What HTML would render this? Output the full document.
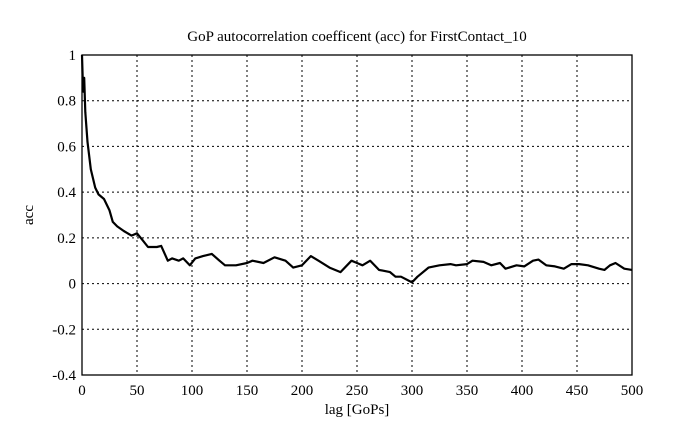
<!DOCTYPE html>
<html><head><style>
body{margin:0;background:#fff;}
svg text{font-family:"Liberation Serif",serif;font-size:15px;fill:#000;}
</style></head><body>
<svg id="s" width="689" height="433" xmlns="http://www.w3.org/2000/svg"></svg>
<script>
const L=82,R=632,T=55,B=375;
const X=v=>L+(v/500)*(R-L), Y=v=>T+(1-v)/1.4*(B-T);
let h='';
for(let i=1;i<10;i++){const x=X(i*50);h+=`<line x1="${x}" y1="${T}" x2="${x}" y2="${B}" stroke="#000" stroke-width="1" stroke-dasharray="2,3"/>`;}
for(let v=-0.2;v<0.95;v+=0.2){const y=Y(v);h+=`<line x1="${L}" y1="${y}" x2="${R}" y2="${y}" stroke="#000" stroke-width="1" stroke-dasharray="2,3"/>`;}
h+=`<rect x="${L}" y="${T}" width="${R-L}" height="${B-T}" fill="none" stroke="#000" stroke-width="1.3"/>`;
for(let i=0;i<=10;i++){const x=X(i*50);h+=`<text x="${x}" y="${B+20}" text-anchor="middle">${i*50}</text>`;}
const yl=['-0.4','-0.2','0','0.2','0.4','0.6','0.8','1'];
yl.forEach((t,i)=>{const y=Y(-0.4+i*0.2);h+=`<text x="${L-6}" y="${y+5}" text-anchor="end">${t}</text>`;});
const d=[[0,1],[1,0.84],[2,0.9],[3,0.75],[5,0.62],[8,0.5],[12,0.42],[15,0.39],[20,0.37],[25,0.32],[28,0.27],[32,0.25],[38,0.23],[45,0.21],[50,0.22],[55,0.19],[60,0.16],[68,0.16],[72,0.165],[78,0.1],[82,0.11],[88,0.1],[92,0.11],[98,0.08],[103,0.11],[110,0.12],[118,0.13],[125,0.1],[130,0.08],[140,0.08],[150,0.09],[155,0.1],[165,0.09],[175,0.115],[185,0.1],[192,0.07],[200,0.08],[208,0.12],[215,0.1],[225,0.07],[235,0.05],[245,0.1],[250,0.09],[255,0.08],[262,0.1],[270,0.06],[280,0.05],[285,0.03],[290,0.03],[300,0.005],[305,0.03],[315,0.07],[325,0.08],[335,0.085],[340,0.08],[350,0.085],[355,0.1],[365,0.095],[372,0.08],[380,0.09],[385,0.065],[395,0.08],[402,0.075],[410,0.1],[415,0.105],[422,0.08],[430,0.075],[438,0.065],[445,0.085],[452,0.085],[460,0.08],[470,0.065],[475,0.06],[480,0.08],[485,0.09],[493,0.065],[500,0.06]];
h+=`<polyline fill="none" stroke="#000" stroke-width="2.2" stroke-linejoin="round" points="${d.map(p=>X(p[0]).toFixed(1)+','+Y(p[1]).toFixed(1)).join(' ')}"/>`;
h+=`<text x="${(L+R)/2}" y="41" text-anchor="middle">GoP autocorrelation coefficent (acc) for FirstContact_10</text>`;
h+=`<text x="${(L+R)/2}" y="414" text-anchor="middle">lag [GoPs]</text>`;
h+=`<text transform="translate(33,${(T+B)/2}) rotate(-90)" text-anchor="middle">acc</text>`;
document.getElementById('s').innerHTML=h;
</script>
</body></html>
